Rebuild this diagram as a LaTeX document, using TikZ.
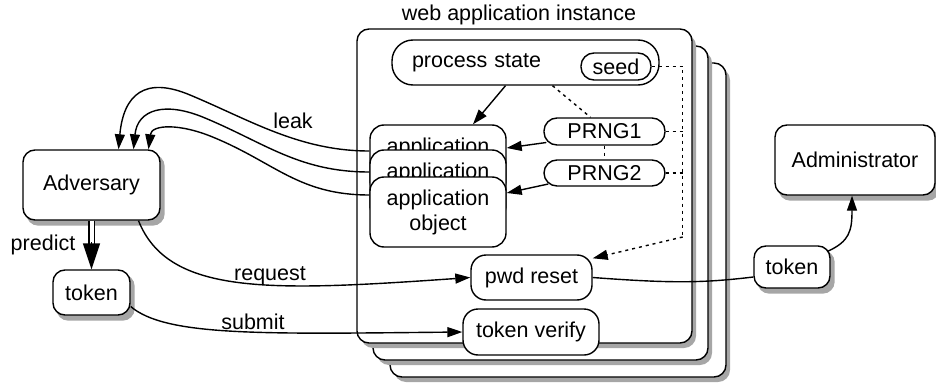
\documentclass[tikz,border=0pt]{standalone}
\usepackage{fontspec}
\setmainfont{Liberation Sans}
\usetikzlibrary{arrows.meta,calc,backgrounds}

\tikzset{
  box/.style={draw, line width=1.4pt, fill=white, rounded corners=12pt, inner sep=0pt, align=center, font=\fontsize{21.5}{25}\selectfont},
  shadowfill/.style={fill=black!35, draw=none, rounded corners=12pt},
  pill/.style={box, rounded corners=13pt},
  arr/.style={line width=1.4pt, -{Triangle[length=15pt,width=10pt]}},
  dots/.style={line width=1.4pt, dash pattern=on 3pt off 4pt},
  lbl/.style={font=\fontsize{21.5}{25}\selectfont, inner sep=0pt},
}

\begin{document}
\begin{tikzpicture}[x=1pt,y=-1pt]
    \useasboundingbox (0,0) rectangle (936,385);
    % stacked instances
    \fill[shadowfill] (394,68) rectangle (730,382);
    \node[box, minimum width=336pt, minimum height=314pt] (inst3) at (558,220) {};
    \fill[shadowfill] (377,51) rectangle (712,365);
    \node[box, minimum width=335pt, minimum height=314pt] (inst2) at (540.5,203) {};
    \fill[shadowfill] (361,34) rectangle (696,348);
    \node[box, minimum width=335pt, minimum height=314pt] (inst1) at (524.5,186) {};
    \node[lbl] (title) at (519,15) {web application instance};
    \node[box, rounded corners=21pt, minimum width=267pt, minimum height=45pt, text width=227pt, align=left, inner xsep=20pt] (ps) at (525.5,62.5) {process state};
    \node[pill, minimum width=70pt, minimum height=27pt] (seed) at (616,66.5) {seed};
    \node[pill, minimum width=121pt, minimum height=27pt] (prng1) at (604.5,131.5) {PRNG1};
    \node[pill, minimum width=121pt, minimum height=26pt] (prng2) at (604.5,173) {PRNG2};
    \foreach \n/\y in {1/160,2/185,3/212}
        \node[box, rounded corners=14pt, minimum width=136pt, minimum height=70pt] (app\n) at (438,\y) {application\\object};
    \node[box, rounded corners=15pt, minimum width=121pt, minimum height=45pt] (pwd) at (531.5,277.5) {pwd reset};
    \node[box, rounded corners=15pt, minimum width=136pt, minimum height=46pt] (ver) at (531,332) {token verify};
    \node[box, minimum width=137pt, minimum height=70pt] (adv) at (91.5,185) {Adversary};
    \node[box, minimum width=77pt, minimum height=45pt] (tokA) at (91.5,292.5) {token};
    \node[box, minimum width=160pt, minimum height=70pt] (admin) at (855,160) {Administrator};
    \node[box, minimum width=76pt, minimum height=42pt] (tokB) at (792,267) {token};
    \begin{scope}[on background layer]
        \foreach \nd in {adv,tokA,admin,tokB}
            \fill[shadowfill] ($(\nd.north west)+(4,5)$) rectangle ($(\nd.south east)+(4,5)$);
    \end{scope}

    \draw[arr] ($(ps.south)+(-20,0)$) -- ($(app1.north)+(35,0)$);
    \draw[arr] ($(prng1.west)+(3,11)$) -- ($(app1.east)+(0,-12)$);
    \draw[arr] ($(prng2.west)+(5,11)$) -- ($(app3.east)+(0,-19)$);
    \draw[dots] ($(ps.south)+(27,0)$) -- ($(prng1.north)+(-14,0)$);
    \draw[dots] (prng1.south) -- (prng2.north);
    \draw[dots] (seed.east) -- ++(31,0) coordinate (dtop) -- (dtop |- 0,237) coordinate (dbot);
    \draw[dots, -{Triangle[length=15pt,width=10pt]}] (dbot) -- ($(pwd.north east)+(0,4)$);
    \draw[dots] (prng1.east) -- (prng1.east -| dtop);
    \draw[dots] (prng2.east) -- (prng2.east -| dtop);

    \draw[arr] ($(app1.west)+(0,-9)$) .. controls +(-70,0) and +(60,25) .. (190,95) .. controls +(-45,-19) and +(5,-55) .. ($(adv.north)+(27,0)$);
    \draw[arr] ($(app2.west)+(0,-13)$) .. controls +(-70,0) and +(60,25) .. (205,118) .. controls +(-40,-17) and +(4,-40) .. ($(adv.north)+(42,0)$);
    \draw[arr] ($(app3.west)+(0,-17)$) .. controls +(-70,0) and +(60,25) .. (215,138) .. controls +(-35,-15) and +(3,-25) .. ($(adv.north)+(57,0)$);
    \node[lbl] (leak) at (293,121) {leak};

    \draw[line width=1.4pt, double distance=4pt] (adv.south) -- ($(tokA.north)+(0,-25)$);
    \draw[line width=1.4pt, -{Triangle[length=26pt,width=17pt]}] ($(tokA.north)+(0,-27)$) -- (tokA.north);
    \node[lbl] (predict) at (43,245) {predict};

    \draw[arr] ($(adv.south)+(47,0)$) .. controls +(30,75) and +(-200,14) .. (pwd.west);
    \node[lbl] (request) at (270,276) {request};
    \draw[arr] ($(tokA.east)+(0,14)$) .. controls +(35,30) and +(-200,2) .. (ver.west);
    \node[lbl] (submit) at (253,322) {submit};

    \draw[line width=1.4pt] (pwd.east) .. controls +(80,6) and +(-50,6) .. ($(tokB.west)+(0,10)$);
    \draw[arr] ($(tokB.north east)+(-3,6)$) .. controls +(22,-10) and +(0,35) .. ($(admin.south)+(-3,0)$);
\end{tikzpicture}
\end{document}
